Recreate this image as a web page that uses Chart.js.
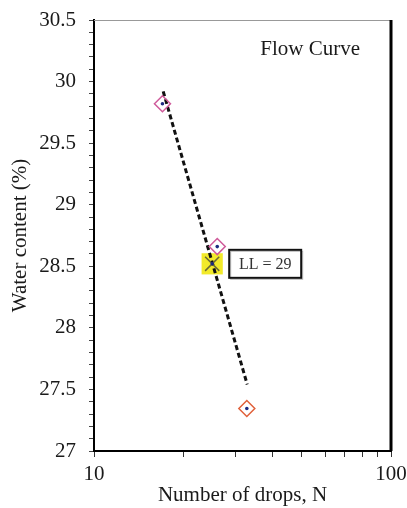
<!DOCTYPE html>
<html>
<head>
<meta charset="utf-8">
<script src="https://cdn.jsdelivr.net/npm/chart.js@4/dist/chart.umd.min.js"></script>
<style>
  html, body { margin: 0; padding: 0; background: #fff; }
  #wrap { width: 407px; height: 508px; }
</style>
</head>
<body>
<div id="wrap"><canvas id="flowChart" width="407" height="508"></canvas></div>
<script>
// values
const dropsN = [17, 26, 32.7];
const waterContent = [29.82, 28.66, 27.345];
const trendN = [17.1, 32.8];
const trendW = [29.92, 27.54];
const llN = [25];
const llW = [28.52];
const llLabel = 'LL = 29';
const xTicks = [10, 20, 30, 40, 50, 60, 70, 80, 90, 100];
const xTickLabels = [10, 100];
const yMin = 27, yMax = 30.5;

const serif = "'Liberation Serif', 'Times New Roman', serif";
Chart.defaults.font.family = serif;
Chart.defaults.font.size = 21;
Chart.defaults.color = '#1a1a1a';

function toPoints(xs, ys) {
    return xs.map((x, i) => ({ x: x, y: ys[i] }));
}

// frame, LL box and the "Flow Curve" note
const extrasPlugin = {
    id: 'extras',
    afterDatasetsDraw(chart) {
        const ctx = chart.ctx;
        const area = chart.chartArea;
        ctx.save();
        // top border (thin grey) and right border (thick black)
        ctx.strokeStyle = '#999';
        ctx.lineWidth = 1;
        ctx.beginPath();
        ctx.moveTo(area.left, area.top + 0.5);
        ctx.lineTo(area.right, area.top + 0.5);
        ctx.stroke();
        ctx.strokeStyle = '#000';
        ctx.lineWidth = 3;
        ctx.beginPath();
        ctx.moveTo(area.right, area.top);
        ctx.lineTo(area.right, area.bottom);
        ctx.stroke();

        // Flow Curve note
        ctx.fillStyle = '#1a1a1a';
        ctx.font = '21px ' + serif;
        ctx.textAlign = 'right';
        ctx.textBaseline = 'middle';
        ctx.fillText('Flow Curve', area.right - 31, area.top + 29);

        // LL label box next to the LL point
        const px = chart.scales.x.getPixelForValue(llN[0]);
        const py = chart.scales.y.getPixelForValue(llW[0]);
        const bx = px + 17, by = py - 14, bw = 72, bh = 28;
        ctx.fillStyle = '#fff';
        ctx.fillRect(bx, by, bw, bh);
        ctx.strokeStyle = '#bbb';
        ctx.lineWidth = 1;
        ctx.strokeRect(bx + 1.5, by + 1.5, bw, bh);
        ctx.strokeStyle = '#111';
        ctx.lineWidth = 2;
        ctx.strokeRect(bx, by, bw, bh);
        ctx.fillStyle = '#333';
        ctx.font = '16px ' + serif;
        ctx.textAlign = 'center';
        ctx.fillText(llLabel, bx + bw / 2, by + bh / 2 + 1);
        ctx.restore();
    }
};

const ctx = document.getElementById('flowChart').getContext('2d');
const flowChart = new Chart(ctx, {
    type: 'scatter',
    data: {
        datasets: [{
            // yellow square behind the LL point
            data: toPoints(llN, llW),
            pointStyle: 'rect',
            pointRadius: 15,
            backgroundColor: '#f2ea2a',
            borderWidth: 0,
            order: 5
        }, {
            data: toPoints(trendN, trendW),
            showLine: true,
            borderColor: '#111',
            borderWidth: 3,
            borderDash: [5, 3],
            pointRadius: 0,
            order: 4
        }, {
            // cross on the LL point
            data: toPoints(llN, llW),
            pointStyle: 'crossRot',
            pointRadius: 10,
            borderColor: '#6a6a35',
            borderWidth: 1.5,
            order: 3
        }, {
            data: toPoints(dropsN, waterContent),
            pointStyle: 'rectRot',
            pointRadius: 8,
            backgroundColor: 'rgba(255,255,255,0)',
            borderColor: ['#cf5a9a', '#cf5a9a', '#e0603a'],
            borderWidth: 1.5,
            order: 2
        }, {
            // small centre dots
            data: toPoints(dropsN.concat(llN), waterContent.concat(llW)),
            pointStyle: 'circle',
            pointRadius: 1.8,
            backgroundColor: '#1c2a80',
            borderWidth: 0,
            order: 1
        }]
    },
    options: {
        responsive: false,
        animation: false,
        layout: { padding: { top: 20, right: 16, left: 0, bottom: 0 } },
        plugins: {
            legend: { display: false },
            tooltip: { enabled: false }
        },
        scales: {
            x: {
                type: 'logarithmic',
                min: 10,
                max: 100,
                afterFit: function (scale) {
                    scale.height = 57;
                    scale.paddingLeft = 0;
                    scale.paddingRight = 0;
                },
                afterBuildTicks: function (scale) {
                    scale.ticks = xTicks.map(v => ({ value: v }));
                },
                border: { display: true, color: '#000', width: 2 },
                grid: { drawOnChartArea: false, tickLength: 6, color: '#333' },
                ticks: {
                    autoSkip: false,
                    maxRotation: 0,
                    padding: 5,
                    callback: function (v) {
                        return xTickLabels.includes(v) ? String(v) : '';
                    }
                },
                title: {
                    display: true,
                    text: 'Number of drops, N',
                    padding: { top: 0, bottom: 0 }
                }
            },
            y: {
                min: yMin,
                max: yMax,
                afterFit: function (scale) {
                    scale.width = 94;
                    scale.paddingTop = 0;
                    scale.paddingBottom = 0;
                },
                border: { display: true, color: '#000', width: 2 },
                grid: { drawOnChartArea: false, tickLength: 5, color: '#444' },
                ticks: {
                    stepSize: 0.1,
                    autoSkip: false,
                    padding: 13,
                    callback: function (v) {
                        const half = v * 2;
                        if (Math.abs(half - Math.round(half)) < 1e-6) {
                            return String(Math.round(v * 10) / 10);
                        }
                        return '';
                    }
                },
                title: {
                    display: true,
                    text: 'Water content (%)',
                    padding: { top: 8, bottom: 0 }
                }
            }
        }
    },
    plugins: [extrasPlugin]
});
</script>
</body>
</html>
